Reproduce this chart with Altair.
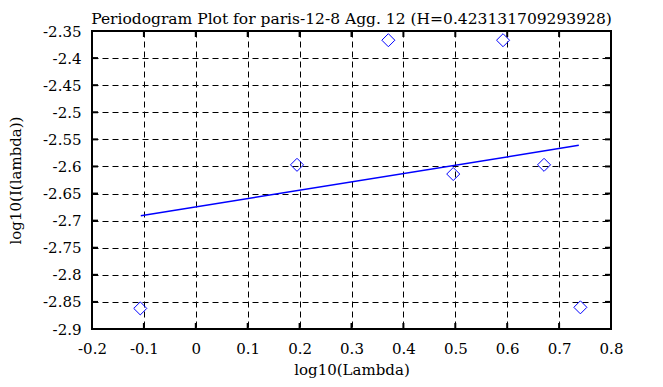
import altair as alt
import pandas as pd

# Data
x_vals = [-0.107, 0.195, 0.371, 0.496, 0.592, 0.671, 0.741]
y_vals = [-2.862, -2.597, -2.367, -2.614, -2.367, -2.597, -2.860]
fit_x = [-0.106, 0.738]
fit_y = [-2.691, -2.561]
x_ticks = [-0.2, -0.1, 0, 0.1, 0.2, 0.3, 0.4, 0.5, 0.6, 0.7, 0.8]
y_ticks = [-2.9, -2.85, -2.8, -2.75, -2.7, -2.65, -2.6, -2.55, -2.5, -2.45, -2.4, -2.35]
title_text = "Periodogram Plot for paris-12-8 Agg. 12 (H=0.423131709293928)"
x_title = "log10(Lambda)"
y_title = "log10(I(lambda))"

W, H = 519, 298
FONT = "DejaVu Serif"
BLUE = "#0000ff"

pts = pd.DataFrame({"x": x_vals, "y": y_vals})
fit = pd.DataFrame({"x": fit_x, "y": fit_y})
xt = pd.DataFrame({"t": x_ticks})
yt = pd.DataFrame({"t": y_ticks})

xscale = alt.Scale(domain=[x_ticks[0], x_ticks[-1]], nice=False, zero=False)
yscale = alt.Scale(domain=[y_ticks[0], y_ticks[-1]], nice=False, zero=False)

common = dict(grid=True, gridDash=[6, 4], gridColor="black", gridOpacity=1, gridWidth=1,
              domain=False, ticks=False, labelOverlap=False, labelFlush=False,
              labelBound=False,
              labelFont=FONT, labelFontSize=15, labelColor="black",
              titleFont=FONT, titleFontSize=15, titleFontWeight="normal", titleColor="black",
              labelExpr="'' + datum.value")

xaxis = alt.Axis(values=x_ticks, title=x_title, labelPadding=12, titlePadding=6, **common)
yaxis = alt.Axis(values=y_ticks, title=y_title, labelPadding=11, titlePadding=19, **common)

line = alt.Chart(fit).mark_line(color=BLUE, strokeWidth=1.5).encode(
    x=alt.X("x:Q", scale=xscale, axis=xaxis),
    y=alt.Y("y:Q", scale=yscale, axis=yaxis),
)
points = alt.Chart(pts).mark_point(shape="diamond", filled=False, color=BLUE,
                                   size=170, strokeWidth=1, opacity=1).encode(
    x=alt.X("x:Q", scale=xscale, axis=xaxis), y=alt.Y("y:Q", scale=yscale, axis=yaxis))

tick_len = 6
xt_bottom = alt.Chart(xt).mark_rule(color="black", strokeWidth=2).encode(
    x=alt.X("t:Q", scale=xscale, axis=xaxis), y=alt.value(H), y2=alt.value(H - tick_len))
xt_top = alt.Chart(xt).mark_rule(color="black", strokeWidth=2).encode(
    x=alt.X("t:Q", scale=xscale, axis=xaxis), y=alt.value(0), y2=alt.value(tick_len))
yt_left = alt.Chart(yt).mark_rule(color="black", strokeWidth=2).encode(
    y=alt.Y("t:Q", scale=yscale, axis=yaxis), x=alt.value(0), x2=alt.value(tick_len))
yt_right = alt.Chart(yt).mark_rule(color="black", strokeWidth=2).encode(
    y=alt.Y("t:Q", scale=yscale, axis=yaxis), x=alt.value(W), x2=alt.value(W - tick_len))

chart = alt.layer(line, xt_bottom, xt_top, yt_left, yt_right, points).properties(
    width=W, height=H,
    title=alt.TitleParams(title_text, font=FONT, fontSize=15.5, fontWeight="normal",
                          color="black", anchor="middle", offset=-3),
    autosize=alt.AutoSizeParams(type="none"),
    padding={"left": 84, "top": 23, "right": 44, "bottom": 50},
    background="white",
).configure_view(stroke="black", strokeWidth=2)

chart.save("out.html", embed_options={"renderer": "svg", "actions": False})
